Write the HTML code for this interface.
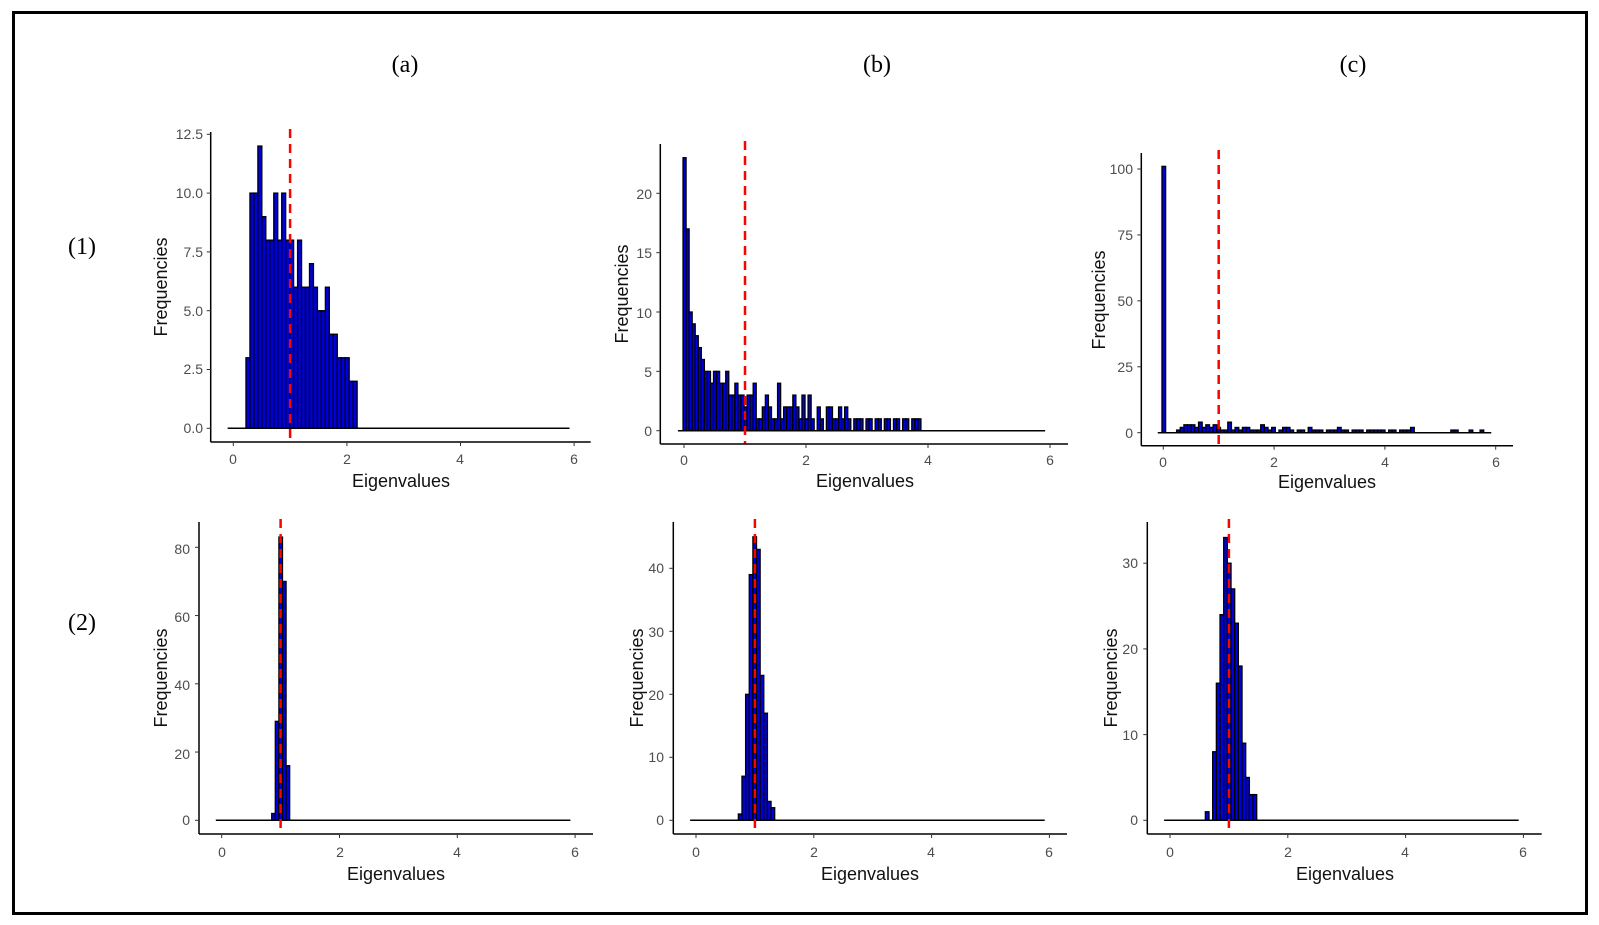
<!DOCTYPE html>
<html><head><meta charset="utf-8"><style>
html,body{margin:0;padding:0;background:#fff;}
svg{display:block;}
.t{font-family:"Liberation Sans",sans-serif;font-size:14px;fill:#4d4d4d;}
.ax{font-family:"Liberation Sans",sans-serif;font-size:18px;fill:#111;}
.lab{font-family:"Liberation Serif",serif;font-size:24px;fill:#000;}
</style></head><body>
<svg id="s" width="1599" height="925" viewBox="0 0 1599 925" xmlns="http://www.w3.org/2000/svg">
<rect x="0" y="0" width="1599" height="925" fill="#fff"/>
<rect x="13.5" y="12.5" width="1573" height="901" fill="none" stroke="#000" stroke-width="3"/>
<text class="lab" x="405" y="72" text-anchor="middle">(a)</text>
<text class="lab" x="877" y="72" text-anchor="middle">(b)</text>
<text class="lab" x="1353" y="72" text-anchor="middle">(c)</text>
<text class="lab" x="82" y="254" text-anchor="middle">(1)</text>
<text class="lab" x="82" y="630" text-anchor="middle">(2)</text>
<g id="g"></g>
<!-- A1 labels -->
<text class="t" x="203" y="139" text-anchor="end">12.5</text>
<text class="t" x="203" y="198" text-anchor="end">10.0</text>
<text class="t" x="203" y="257" text-anchor="end">7.5</text>
<text class="t" x="203" y="316" text-anchor="end">5.0</text>
<text class="t" x="203" y="374" text-anchor="end">2.5</text>
<text class="t" x="203" y="433" text-anchor="end">0.0</text>
<text class="t" x="233" y="464" text-anchor="middle">0</text>
<text class="t" x="347" y="464" text-anchor="middle">2</text>
<text class="t" x="460" y="464" text-anchor="middle">4</text>
<text class="t" x="574" y="464" text-anchor="middle">6</text>
<text class="ax" x="401" y="487" text-anchor="middle">Eigenvalues</text>
<text class="ax" transform="translate(167,287) rotate(-90)" text-anchor="middle">Frequencies</text>
<!-- B1 -->
<text class="t" x="652" y="199" text-anchor="end">20</text>
<text class="t" x="652" y="258" text-anchor="end">15</text>
<text class="t" x="652" y="318" text-anchor="end">10</text>
<text class="t" x="652" y="377" text-anchor="end">5</text>
<text class="t" x="652" y="436" text-anchor="end">0</text>
<text class="t" x="684" y="465" text-anchor="middle">0</text>
<text class="t" x="806" y="465" text-anchor="middle">2</text>
<text class="t" x="928" y="465" text-anchor="middle">4</text>
<text class="t" x="1050" y="465" text-anchor="middle">6</text>
<text class="ax" x="865" y="487" text-anchor="middle">Eigenvalues</text>
<text class="ax" transform="translate(628,294) rotate(-90)" text-anchor="middle">Frequencies</text>
<!-- C1 -->
<text class="t" x="1133" y="174" text-anchor="end">100</text>
<text class="t" x="1133" y="240" text-anchor="end">75</text>
<text class="t" x="1133" y="306" text-anchor="end">50</text>
<text class="t" x="1133" y="372" text-anchor="end">25</text>
<text class="t" x="1133" y="438" text-anchor="end">0</text>
<text class="t" x="1163" y="467" text-anchor="middle">0</text>
<text class="t" x="1274" y="467" text-anchor="middle">2</text>
<text class="t" x="1385" y="467" text-anchor="middle">4</text>
<text class="t" x="1496" y="467" text-anchor="middle">6</text>
<text class="ax" x="1327" y="488" text-anchor="middle">Eigenvalues</text>
<text class="ax" transform="translate(1105,300) rotate(-90)" text-anchor="middle">Frequencies</text>
<!-- A2 -->
<text class="t" x="190" y="554" text-anchor="end">80</text>
<text class="t" x="190" y="622" text-anchor="end">60</text>
<text class="t" x="190" y="690" text-anchor="end">40</text>
<text class="t" x="190" y="759" text-anchor="end">20</text>
<text class="t" x="190" y="825" text-anchor="end">0</text>
<text class="t" x="222" y="857" text-anchor="middle">0</text>
<text class="t" x="340" y="857" text-anchor="middle">2</text>
<text class="t" x="457" y="857" text-anchor="middle">4</text>
<text class="t" x="575" y="857" text-anchor="middle">6</text>
<text class="ax" x="396" y="880" text-anchor="middle">Eigenvalues</text>
<text class="ax" transform="translate(167,678) rotate(-90)" text-anchor="middle">Frequencies</text>
<!-- B2 -->
<text class="t" x="664" y="573" text-anchor="end">40</text>
<text class="t" x="664" y="637" text-anchor="end">30</text>
<text class="t" x="664" y="700" text-anchor="end">20</text>
<text class="t" x="664" y="762" text-anchor="end">10</text>
<text class="t" x="664" y="825" text-anchor="end">0</text>
<text class="t" x="696" y="857" text-anchor="middle">0</text>
<text class="t" x="814" y="857" text-anchor="middle">2</text>
<text class="t" x="931" y="857" text-anchor="middle">4</text>
<text class="t" x="1049" y="857" text-anchor="middle">6</text>
<text class="ax" x="870" y="880" text-anchor="middle">Eigenvalues</text>
<text class="ax" transform="translate(643,678) rotate(-90)" text-anchor="middle">Frequencies</text>
<!-- C2 -->
<text class="t" x="1138" y="568" text-anchor="end">30</text>
<text class="t" x="1138" y="654" text-anchor="end">20</text>
<text class="t" x="1138" y="740" text-anchor="end">10</text>
<text class="t" x="1138" y="825" text-anchor="end">0</text>
<text class="t" x="1170" y="857" text-anchor="middle">0</text>
<text class="t" x="1288" y="857" text-anchor="middle">2</text>
<text class="t" x="1405" y="857" text-anchor="middle">4</text>
<text class="t" x="1523" y="857" text-anchor="middle">6</text>
<text class="ax" x="1345" y="880" text-anchor="middle">Eigenvalues</text>
<text class="ax" transform="translate(1117,678) rotate(-90)" text-anchor="middle">Frequencies</text>
</svg>
<script>
var NS="http://www.w3.org/2000/svg",g=document.getElementById("g");
function el(n,a){var e=document.createElementNS(NS,n);for(var k in a)e.setAttribute(k,a[k]);g.appendChild(e);return e;}
var c1=[0,0,0,1,2,3,3,3,2,4,2,3,2,3,2,1,1,4,1,2,1,2,2,1,1,1,3,2,1,2,0,1,2,2,1,0,1,1,0,2,1,1,1,0,1,1,1,2,1,1,0,1,1,1,0,1,1,1,1,1,0,1,1,0,1,1,1,2,0,0,0,0,0,0,0,0,0,0,1,1,0,0,0,1,0,0,1,0,0];
c1.unshift(101);
var P=[
 {x0:210.7,top:132,xa:442,end:590.7,xs0:233.3,xu:56.8,ys0:428.3,yu:23.52,ticks:[0,2.5,5,7.5,10,12.5],start:0.223,w:0.0699,
  h:[3,10,10,12,9,8,8,10,8,10,8,8,6,8,6,6,7,6,5,5,6,4,4,3,3,3,2,2]},
 {x0:660.3,top:144,xa:444,end:1068,xs0:684,xu:61,ys0:430.7,yu:11.87,ticks:[0,5,10,15,20],start:-0.016,w:0.05,
  h:[23,17,10,9,8,7,6,5,5,4,5,5,4,4,5,3,3,4,3,3,2,3,3,4,1,1,2,3,2,1,1,4,1,2,2,2,3,2,1,3,1,3,1,0,2,1,0,2,2,1,1,2,1,2,1,0,1,1,1,0,1,1,0,1,1,0,1,1,0,1,1,0,1,1,0,1,1,1]},
 {x0:1141.3,top:153,xa:445.7,end:1513,xs0:1163.3,xu:55.4,ys0:432.7,yu:2.637,ticks:[0,25,50,75,100],start:-0.024,w:0.066,h:c1},
 {x0:199,top:522,xa:834,end:593,xs0:221.7,xu:58.9,ys0:820.3,yu:3.4125,ticks:[0,20,40,60,80],start:0.849,w:0.061,h:[2,29,83,70,16]},
 {x0:673.3,top:522,xa:834,end:1067,xs0:696,xu:58.9,ys0:820.3,yu:6.3,ticks:[0,10,20,30,40],start:0.719,w:0.0617,h:[1,7,20,39,45,43,23,17,3,2]},
 {x0:1147.3,top:522,xa:834,end:1541.7,xs0:1170,xu:58.9,ys0:820.3,yu:8.57,ticks:[0,10,20,30],start:0.6,w:0.0623,h:[1,0,8,16,24,33,30,27,23,18,9,5,3,3]}
];
P.forEach(function(p){
 p.h.forEach(function(v,i){ if(!v)return;
  var x=p.xs0+(p.start+i*p.w)*p.xu, bw=p.w*p.xu, y=p.ys0-v*p.yu;
  el("rect",{x:x,y:y,width:bw,height:v*p.yu,fill:"#0000d8",stroke:"#000","stroke-width":1.3});
 });
 el("line",{x1:p.xs0-0.1*p.xu,x2:p.xs0+5.92*p.xu,y1:p.ys0,y2:p.ys0,stroke:"#000","stroke-width":1.5});
 el("line",{x1:p.xs0+p.xu,x2:p.xs0+p.xu,y1:p.top-3,y2:p.xa,stroke:"#ff0000","stroke-width":2.5,"stroke-dasharray":"9,6"});
 el("line",{x1:p.x0,x2:p.x0,y1:p.top,y2:p.xa,stroke:"#000","stroke-width":1.5});
 el("line",{x1:p.x0,x2:p.end,y1:p.xa,y2:p.xa,stroke:"#000","stroke-width":1.5});
 p.ticks.forEach(function(t){var y=p.ys0-t*p.yu;el("line",{x1:p.x0-4,x2:p.x0,y1:y,y2:y,stroke:"#333","stroke-width":1});});
 [0,2,4,6].forEach(function(t){var x=p.xs0+t*p.xu;el("line",{x1:x,x2:x,y1:p.xa,y2:p.xa+4,stroke:"#333","stroke-width":1});});
});
</script>
</body></html>
